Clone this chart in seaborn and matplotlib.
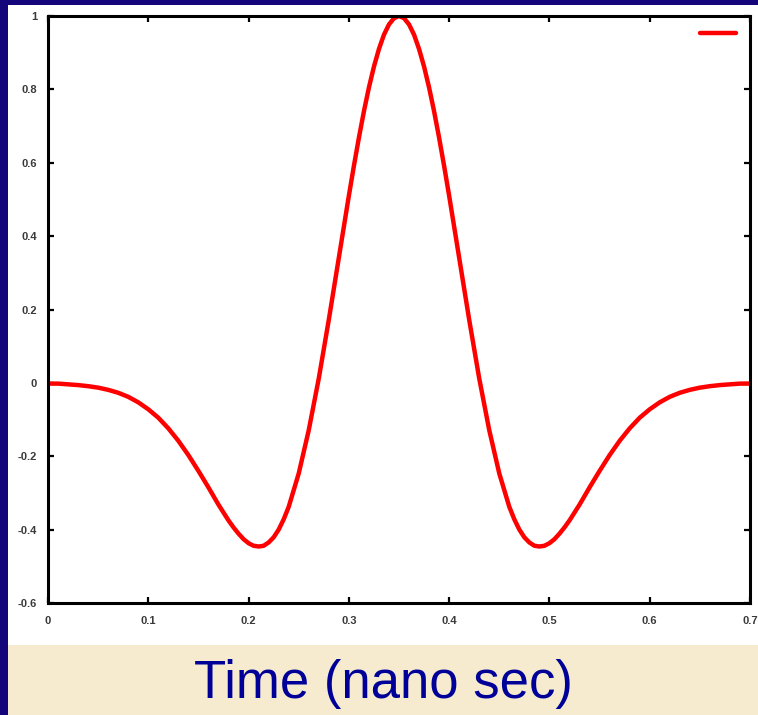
import numpy as np
import pandas as pd
import seaborn as sns
import matplotlib
matplotlib.use("Agg")
import matplotlib.pyplot as plt
from matplotlib.patches import Rectangle

# Pulse amplitude vs time (ns); finer sampling around the peak and the two troughs
time_ns = [
    0.00, 0.01, 0.02, 0.03, 0.04, 0.05, 0.06, 0.07, 0.08, 0.09,
    0.10, 0.11, 0.12, 0.13, 0.14, 0.15, 0.16, 0.17, 0.18, 0.185,
    0.19, 0.195, 0.20, 0.205, 0.21, 0.215, 0.22, 0.225, 0.23, 0.235,
    0.24, 0.25, 0.26, 0.27, 0.28, 0.29, 0.30, 0.305, 0.31, 0.315,
    0.32, 0.325, 0.33, 0.335, 0.34, 0.345, 0.35, 0.355, 0.36, 0.365,
    0.37, 0.375, 0.38, 0.385, 0.39, 0.395, 0.40, 0.41, 0.42, 0.43,
    0.44, 0.45, 0.46, 0.465, 0.47, 0.475, 0.48, 0.485, 0.49, 0.495,
    0.50, 0.505, 0.51, 0.515, 0.52, 0.53, 0.54, 0.55, 0.56, 0.57,
    0.58, 0.59, 0.60, 0.61, 0.62, 0.63, 0.64, 0.65, 0.66, 0.67,
    0.68, 0.69, 0.70,
]
amplitude = [
    -0.002, -0.002, -0.004, -0.006, -0.009, -0.013, -0.019, -0.027, -0.038, -0.053,
    -0.072, -0.095, -0.124, -0.158, -0.197, -0.240, -0.285, -0.332, -0.375, -0.394,
    -0.411, -0.426, -0.437, -0.444, -0.446, -0.444, -0.435, -0.421, -0.400, -0.372,
    -0.338, -0.247, -0.129, 0.012, 0.172, 0.341, 0.510, 0.591, 0.668, 0.740,
    0.805, 0.862, 0.910, 0.949, 0.977, 0.994, 1.000, 0.994, 0.977, 0.949,
    0.910, 0.862, 0.805, 0.740, 0.668, 0.591, 0.510, 0.341, 0.172, 0.012,
    -0.129, -0.247, -0.338, -0.372, -0.400, -0.421, -0.435, -0.444, -0.446, -0.444,
    -0.437, -0.426, -0.411, -0.394, -0.375, -0.332, -0.285, -0.240, -0.197, -0.158,
    -0.124, -0.095, -0.072, -0.053, -0.038, -0.027, -0.019, -0.013, -0.009, -0.006,
    -0.004, -0.002, -0.002,
]
x_ticks = [0, 0.1, 0.2, 0.3, 0.4, 0.5, 0.6, 0.7]
x_tick_labels = ["0", "0.1", "0.2", "0.3", "0.4", "0.5", "0.6", "0.7"]
y_ticks = [-0.6, -0.4, -0.2, 0, 0.2, 0.4, 0.6, 0.8, 1]
y_tick_labels = ["-0.6", "-0.4", "-0.2", "0", "0.2", "0.4", "0.6", "0.8", "1"]
x_label = "Time (nano sec)"

sns.set_style("white")
plt.rcParams["font.family"] = ["Liberation Sans", "DejaVu Sans"]
plt.rcParams["axes.unicode_minus"] = False

W, H = 758, 715
fig = plt.figure(figsize=(W / 100, H / 100), dpi=100)
fig.patch.set_facecolor("#14067a")

# white slide panel and beige caption band, kept behind the axes
fig.patches.append(Rectangle((8 / W, 1 - 645 / H), 1 - 8 / W, (645 - 5) / H,
                             transform=fig.transFigure, facecolor="white",
                             edgecolor="none", zorder=-5))
fig.patches.append(Rectangle((8 / W, 0), 1 - 8 / W, 1 - 645 / H,
                             transform=fig.transFigure, facecolor="#f6ebcf",
                             edgecolor="none", zorder=-5))

ax = fig.add_axes([48 / W, 1 - 603 / H, (750 - 48) / W, (603 - 16) / H])
ax.set_zorder(2)
ax.set_facecolor("white")

df = pd.DataFrame({"t": time_ns, "v": amplitude})
sns.lineplot(data=df, x="t", y="v", ax=ax, color="#ff0000", linewidth=3.2,
             label=" ", sort=False)
for ln in ax.get_lines():
    ln.set_solid_joinstyle("round")

ax.set_xlim(0, 0.7)
ax.set_ylim(-0.6, 1)
ax.set_xticks(x_ticks)
ax.set_xticklabels(x_tick_labels)
ax.set_yticks(y_ticks)
ax.set_yticklabels(y_tick_labels)
ax.set_xlabel("")
ax.set_ylabel("")

for s in ax.spines.values():
    s.set_visible(True)
    s.set_color("black")
    s.set_linewidth(2.2)

ax.tick_params(axis="both", which="both", direction="in", length=4, width=1.6,
               color="black", labelsize=8, labelcolor="#3a3a3a",
               top=True, right=True, bottom=True, left=True)
ax.tick_params(axis="x", pad=9)
ax.tick_params(axis="y", pad=8)
for lbl in ax.get_xticklabels() + ax.get_yticklabels():
    lbl.set_fontweight("bold")

leg = ax.legend(loc="upper right", frameon=False, handlelength=2.6,
                handletextpad=0.0, borderaxespad=0.35, fontsize=10)

fig.text(383 / W, 1 - 684 / H, x_label, ha="center", va="center",
         fontsize=38, color="#000099", zorder=3)

fig.savefig("out.png", dpi=100, facecolor=fig.get_facecolor())
